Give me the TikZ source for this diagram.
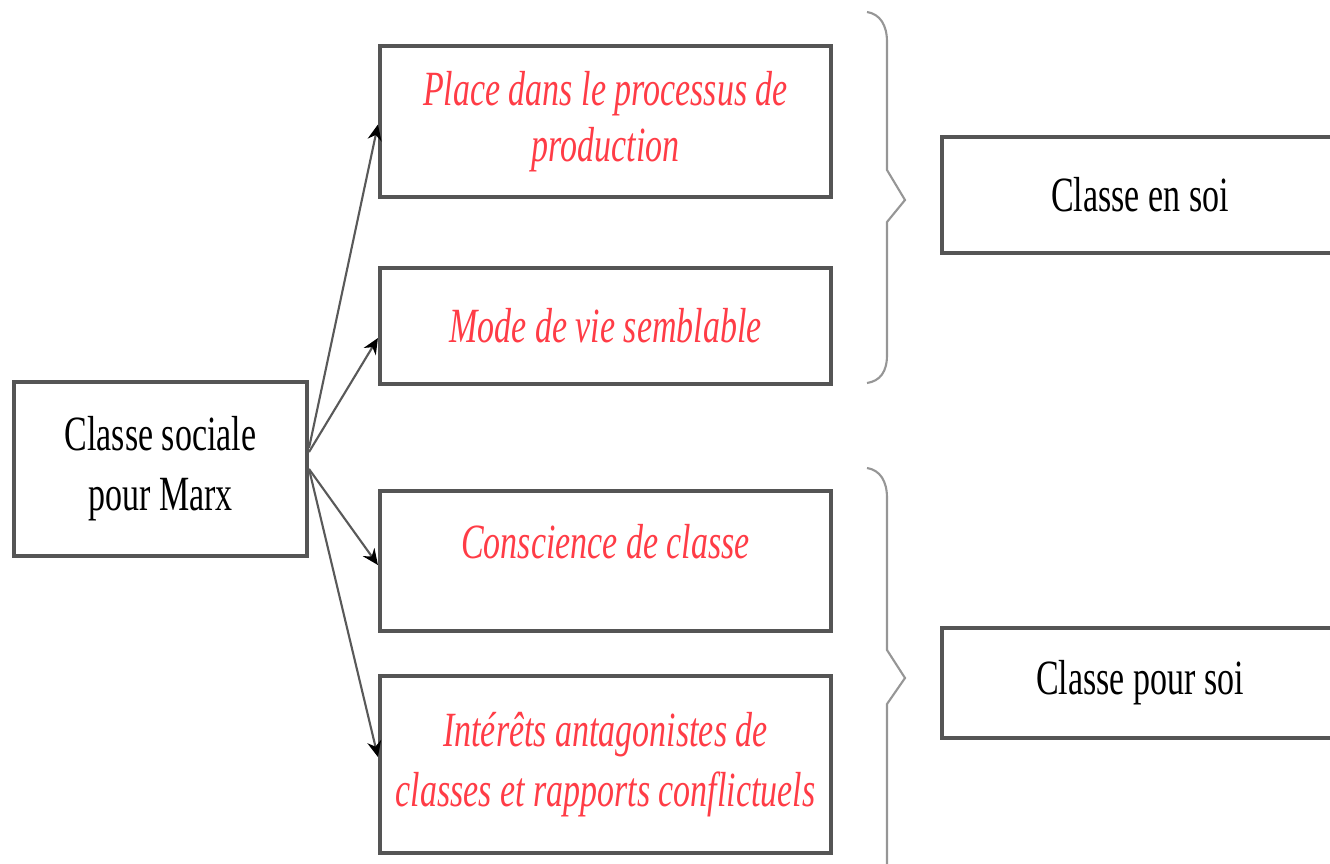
\documentclass[tikz,border=0pt]{standalone}
\usepackage{fontspec}
\setmainfont{Liberation Serif}[FakeStretch=0.69]
\usetikzlibrary{arrows.meta}
\definecolor{boxline}{RGB}{85,85,85}
\definecolor{textred}{RGB}{255,60,70}
\definecolor{bracegray}{RGB}{150,150,150}

\begin{document}
\begin{tikzpicture}[x=0.01cm, y=-0.01cm]

		\tikzstyle{box}   = [draw=boxline, line width=1.1pt, inner sep=0pt, align=center, font=\fontsize{14}{17}\selectfont]
		\tikzstyle{item}  = [box, minimum width=4.51cm, text=textred, font=\fontsize{14}{17}\selectfont\itshape]
		\tikzstyle{arr}   = [draw=black!65, line width=0.6pt, -{Stealth[black, length=4.5pt, width=4pt]}]
		\tikzstyle{brace} = [draw=bracegray, line width=0.6pt]

		\useasboundingbox (0,0) rectangle (1330,863);
		\clip (0,0) rectangle (1330,863);

		\node [box, minimum width=2.93cm, minimum height=1.74cm](soc) at (160.5, 469) {Classe sociale\\pour Marx};

		%%Criteria
		\node [item, minimum height=1.51cm](place) at (605.5, 121.5) {Place dans le processus de\\[-1pt]production};
		\node [item, minimum height=1.16cm](mode) at (605.5, 326) {Mode de vie semblable};
		\node [item, minimum height=1.40cm](consc) at (605.5, 561) {Conscience de classe\\[-11pt]\strut};
		\node [item, minimum height=1.77cm](inter) at (605.5, 764.5) {Intérêts antagonistes de\\classes et rapports conflictuels};

		%%Classe en soi / pour soi
		\node [box, minimum width=3.96cm, minimum height=1.16cm](ensoi) at (1140, 195) {Classe en soi};
		\node [box, minimum width=3.96cm, minimum height=1.10cm](poursoi) at (1140, 683) {Classe pour soi};

		%%Braces
		\draw [brace] (867,12) .. controls (880,14) and (887,25) .. (887,42) -- (887,170) -- (905,200) -- (887,222) -- (887,355) .. controls (887,372) and (880,381) .. (867,383);
		\draw [brace] (867,468) .. controls (880,470) and (887,481) .. (887,498) -- (887,650) -- (905,678) -- (887,704) -- (887,900);

		\draw [arr] ([yshift=0.21cm]soc.east) -- ([yshift=-0.03cm]place.west);
		\draw [arr] ([yshift=0.17cm]soc.east) -- ([yshift=-0.12cm]mode.west);
		\draw [arr] (soc.east) -- ([yshift=-0.04cm]consc.west);
		\draw [arr] (soc.east) -- ([yshift=0.075cm]inter.west);
	\end{tikzpicture}
\end{document}
